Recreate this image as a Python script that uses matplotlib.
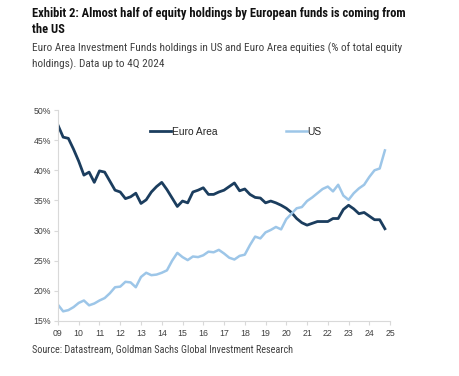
import numpy as np
import matplotlib
matplotlib.use("Agg")
from matplotlib import pyplot as plt
from matplotlib.ticker import FuncFormatter

# quarterly data, 2009Q1 .. 2024Q4 (% of total equity holdings)
euro_area = [47.5, 45.5, 45.3, 43.5, 41.5, 39.2, 39.7, 38.0,
             39.9, 39.7, 38.2, 36.7, 36.4, 35.3, 35.6, 36.2,
             34.5, 35.1, 36.4, 37.3, 38.0, 36.8, 35.4, 34.0,
             34.9, 34.6, 36.4, 36.7, 37.1, 36.0, 36.0, 36.4,
             36.7, 37.3, 37.9, 36.6, 36.9, 36.0, 35.5, 35.4,
             34.6, 34.9, 34.6, 34.2, 33.7, 33.0, 32.0, 31.3,
             30.9, 31.2, 31.5, 31.5, 31.5, 32.0, 32.0, 33.5,
             34.2, 33.6, 32.8, 33.0, 32.4, 31.8, 31.8, 30.3]
us = [17.7, 16.6, 16.8, 17.3, 18.0, 18.4, 17.6, 17.9,
      18.4, 18.8, 19.6, 20.6, 20.7, 21.5, 21.4, 20.6,
      22.3, 23.0, 22.6, 22.7, 23.0, 23.4, 25.0, 26.3,
      25.6, 25.1, 25.7, 25.6, 25.9, 26.5, 26.4, 26.8,
      26.2, 25.5, 25.2, 25.8, 26.0, 27.6, 29.0, 28.7,
      29.7, 30.1, 30.6, 30.2, 31.9, 32.8, 33.7, 33.9,
      34.9, 35.5, 36.2, 36.9, 37.3, 36.5, 37.6, 35.8,
      35.1, 36.2, 37.0, 37.6, 38.9, 40.0, 40.3, 43.3]
years = list(range(2009, 2026))
year_labels = ["%02d" % (y % 100) for y in years]
yticks = [15, 20, 25, 30, 35, 40, 45, 50]

t = 2009 + np.arange(len(us)) / 4.0

plt.rcParams['font.family'] = ['Liberation Sans', 'DejaVu Sans']
head_font = ['Liberation Sans Narrow', 'Roboto Condensed', 'Liberation Sans', 'DejaVu Sans']

fig = plt.figure(figsize=(4.6, 3.76), dpi=100)
ax = fig.add_axes([0.126, 0.1463, 0.722, 0.5611])

ax.plot(t, euro_area, color='#1b3d5e', lw=2.0, label='Euro Area')
ax.plot(t, us, color='#9dc6e8', lw=1.8, label='US')

ax.set_xlim(2009, 2025)
ax.set_ylim(15, 50)
ax.set_xticks(years)
ax.set_xticklabels(year_labels)
ax.set_yticks(yticks)
ax.yaxis.set_major_formatter(FuncFormatter(lambda v, p: '%d%%' % v))
ax.tick_params(labelsize=6.3, colors='#d9d9d9', labelcolor='#404040', length=3, width=0.8)
ax.tick_params(axis='x', pad=3)
ax.tick_params(axis='y', pad=2)

for s in ['top', 'right']:
    ax.spines[s].set_visible(False)
for s in ['left', 'bottom']:
    ax.spines[s].set_color('#d9d9d9')
    ax.spines[s].set_linewidth(0.8)

leg = ax.legend(ncol=2, loc='center left', bbox_to_anchor=(0.265, 0.896), frameon=False,
                fontsize=7.4, handlelength=2.0, handletextpad=0.1, columnspacing=6.7,
                borderaxespad=0)
for txt in leg.get_texts():
    txt.set_color('#262626')

fig.text(32 / 460, 1 - 33 / 376, 'Exhibit 2: Almost half of equity holdings by European funds is coming from\nthe US',
         family=head_font, fontweight='bold', fontsize=9.0, color='#111111',
         va='baseline', ha='left', linespacing=1.3)
fig.text(32 / 460, 1 - 67 / 376, 'Euro Area Investment Funds holdings in US and Euro Area equities (% of total equity\nholdings). Data up to 4Q 2024',
         family=head_font, fontsize=8.1, color='#404040', va='baseline', ha='left', linespacing=1.5)
fig.text(32 / 460, 1 - 352 / 376, 'Source: Datastream, Goldman Sachs Global Investment Research',
         family=head_font, fontsize=7.3, color='#404040', va='baseline', ha='left')

fig.savefig('out.png', dpi=100)
